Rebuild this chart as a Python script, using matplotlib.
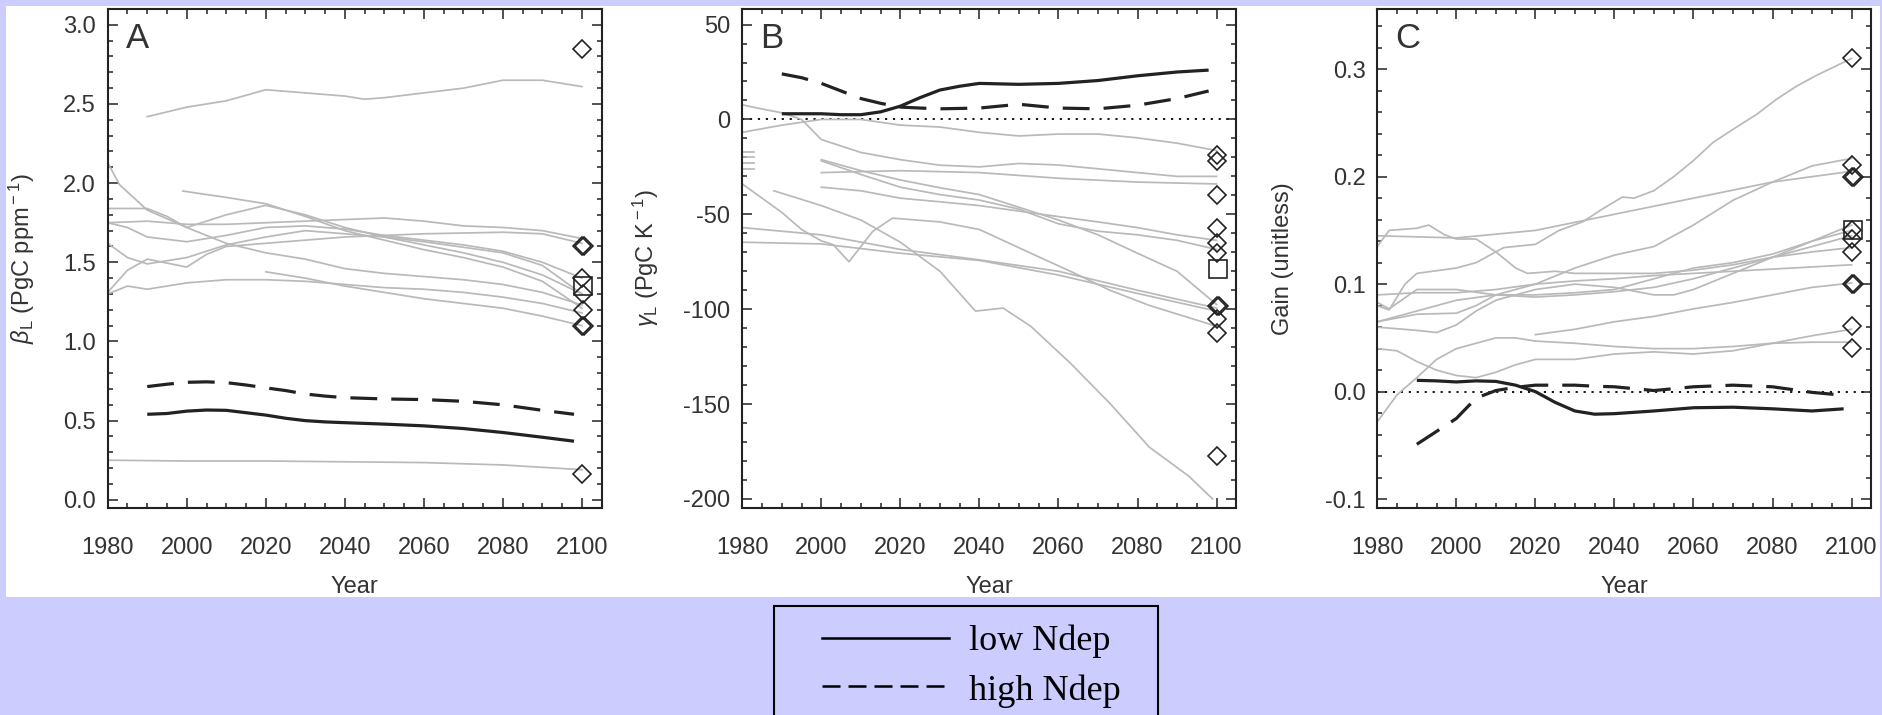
import numpy as np
import matplotlib
matplotlib.use('Agg')
import matplotlib.pyplot as plt
from matplotlib.patches import Rectangle
from matplotlib.lines import Line2D
from matplotlib.ticker import MultipleLocator

plt.rcParams['font.family'] = ['Liberation Sans', 'DejaVu Sans']
plt.rcParams['mathtext.fontset'] = 'custom'
plt.rcParams['mathtext.rm'] = 'Liberation Sans'
plt.rcParams['mathtext.it'] = 'Liberation Sans:italic'

# ---------------- data: panel A (beta_L, PgC/ppm) ----------------
beta_gray = [
    ([1990, 2000, 2010, 2020, 2030, 2040, 2045, 2050, 2060, 2070, 2080, 2090, 2100],
     [2.42, 2.48, 2.52, 2.59, 2.57, 2.55, 2.53, 2.54, 2.57, 2.60, 2.65, 2.65, 2.61]),
    ([1980, 1983, 1990, 2000, 2010, 2020, 2030, 2040, 2050, 2060, 2070, 2080, 2090, 2100],
     [2.13, 1.99, 1.83, 1.72, 1.62, 1.56, 1.52, 1.46, 1.43, 1.41, 1.39, 1.36, 1.31, 1.23]),
    ([1980, 1990, 1995, 2000, 2010, 2020, 2030, 2040, 2050, 2060, 2070, 2080, 2090, 2100],
     [1.84, 1.84, 1.79, 1.72, 1.80, 1.86, 1.80, 1.72, 1.66, 1.61, 1.56, 1.50, 1.42, 1.30]),
    ([1999, 2010, 2020, 2030, 2040, 2050, 2060, 2070, 2080, 2090, 2100],
     [1.95, 1.91, 1.87, 1.79, 1.70, 1.64, 1.58, 1.53, 1.47, 1.38, 1.21]),
    ([1980, 1990, 2000, 2010, 2020, 2030, 2040, 2050, 2060, 2070, 2080, 2090, 2100],
     [1.75, 1.76, 1.74, 1.74, 1.75, 1.76, 1.77, 1.78, 1.76, 1.73, 1.72, 1.70, 1.65]),
    ([1980, 1985, 1990, 2000, 2010, 2020, 2030, 2040, 2050, 2060, 2070, 2080, 2090, 2100],
     [1.75, 1.72, 1.66, 1.63, 1.67, 1.72, 1.73, 1.71, 1.67, 1.64, 1.61, 1.57, 1.50, 1.40]),
    ([1980, 1985, 1990, 2000, 2010, 2020, 2030, 2040, 2050, 2060, 2080, 2090, 2100],
     [1.62, 1.53, 1.49, 1.53, 1.61, 1.66, 1.70, 1.68, 1.66, 1.63, 1.56, 1.48, 1.30]),
    ([1980, 1985, 1990, 2000, 2005, 2010, 2020, 2030, 2040, 2060, 2080, 2090, 2100],
     [1.31, 1.45, 1.52, 1.47, 1.55, 1.60, 1.62, 1.64, 1.66, 1.68, 1.69, 1.68, 1.62]),
    ([1980, 1985, 1990, 2000, 2010, 2020, 2030, 2040, 2050, 2060, 2070, 2080, 2090, 2100],
     [1.30, 1.35, 1.33, 1.37, 1.39, 1.39, 1.38, 1.36, 1.34, 1.33, 1.31, 1.28, 1.24, 1.18]),
    ([2020, 2030, 2040, 2050, 2060, 2070, 2080, 2090, 2100],
     [1.44, 1.40, 1.35, 1.31, 1.27, 1.24, 1.21, 1.16, 1.10]),
    ([1980, 2000, 2020, 2040, 2060, 2080, 2100],
     [0.25, 0.245, 0.245, 0.24, 0.235, 0.22, 0.19]),
]
black_years = [1990, 1995, 2000, 2005, 2010, 2015, 2020, 2025, 2030, 2035, 2040,
               2050, 2060, 2070, 2080, 2090, 2098]
beta_low = [0.54, 0.545, 0.56, 0.567, 0.565, 0.55, 0.535, 0.515, 0.50, 0.492, 0.487,
            0.478, 0.467, 0.45, 0.425, 0.395, 0.37]
beta_high = [0.715, 0.73, 0.742, 0.745, 0.74, 0.725, 0.707, 0.69, 0.668, 0.655, 0.645,
             0.637, 0.633, 0.622, 0.60, 0.565, 0.54]
beta_diamond_x = [2100, 2100, 2100.5, 2100, 2100.3, 2100.3, 2100, 2100.5, 2100]
beta_diamond_y = [2.85, 1.60, 1.60, 1.40, 1.30, 1.20, 1.10, 1.10, 0.16]
beta_square_x = [2100.3]
beta_square_y = [1.35]

# ---------------- data: panel B (gamma_L, PgC/K) ----------------
gamma_gray = [
    ([1980, 1990, 2000, 2010, 2020, 2030, 2040, 2050, 2060, 2070, 2080, 2090, 2100],
     [-6.8, -3, 0, 0, -3, -4, -6.8, -8.7, -7.7, -7.7, -9.7, -12.5, -16.4]),
    ([1980, 1985, 1990, 1995, 2000, 2010, 2020, 2030, 2040, 2050, 2060, 2070, 2080, 2090, 2100],
     [7.7, 5.5, 3.5, 0, -10.6, -17.4, -21.2, -24.1, -25, -23.2, -24, -26, -28, -30, -30]),
    ([2000, 2020, 2040, 2060, 2080, 2100],
     [-28, -27, -28, -31, -33, -34]),
    ([2000, 2010, 2020, 2030, 2040, 2050, 2060, 2070, 2080, 2090, 2100],
     [-21.8, -29, -35.7, -39.6, -42.5, -47.3, -55, -58.9, -60.8, -63.7, -68.5]),
    ([2000, 2010, 2020, 2030, 2040, 2050, 2060, 2070, 2080, 2090, 2100],
     [-35.7, -37.6, -41.5, -43.4, -45.4, -48.3, -51.2, -54, -57, -60.8, -63.7]),
    ([2000, 2010, 2020, 2030, 2040, 2050, 2060, 2070, 2080, 2090, 2100],
     [-21.2, -27, -31.9, -36, -39.6, -46.3, -53, -60.8, -70.5, -80, -97.5]),
    ([1988, 2000, 2010, 2020, 2030, 2039, 2046, 2053, 2063, 2073, 2083, 2093, 2099],
     [-37.6, -45.4, -53, -64.7, -80, -101, -99.4, -109, -128.4, -149.6, -172.7, -188, -200]),
    ([1980, 1990, 1995, 2000, 2003, 2007, 2013, 2018, 2030, 2040, 2053, 2063, 2073, 2083, 2100],
     [-34, -49, -58, -64, -66, -75, -59, -52, -54, -58, -70.5, -80, -90, -98, -109]),
    ([1980, 2000, 2020, 2040, 2060, 2080, 2100],
     [-57, -60.8, -68.5, -74, -80, -90, -99.4]),
    ([1980, 2000, 2020, 2040, 2060, 2080, 2100],
     [-64.7, -65.6, -70.5, -74.3, -82, -91.7, -101]),
    ([1980, 1983], [-17, -17]),
    ([1980, 1983], [-20, -20]),
    ([1980, 1983], [-23, -23]),
    ([1980, 1983], [-26, -26]),
]
gamma_low = [3, 3, 3, 2.5, 2.5, 4, 7, 11.5, 15.5, 17.5, 19, 18.5, 19, 20.5, 23, 25, 26]
gamma_high = [24, 22, 19, 15, 11, 8.5, 6.5, 6, 5.6, 5.8, 6, 8, 6, 5.6, 7.5, 11, 15]
gamma_diamond_x = [2100, 2100, 2100, 2100, 2100, 2100, 2100, 2100.5, 2100, 2100, 2100]
gamma_diamond_y = [-19, -22, -40, -57, -65, -70.5, -98.5, -98.5, -105, -112.5, -177.6]
gamma_square_x = [2100.3]
gamma_square_y = [-79]

# ---------------- data: panel C (gain, unitless) ----------------
gain_gray = [
    ([1980, 1983, 1987, 1990, 2000, 2005, 2012, 2020, 2026, 2032, 2037, 2042, 2045, 2050,
      2055, 2060, 2065, 2070, 2076, 2081, 2086, 2091, 2100],
     [0.08, 0.076, 0.10, 0.11, 0.115, 0.12, 0.134, 0.137, 0.15, 0.158, 0.17, 0.181, 0.18,
      0.187, 0.2, 0.215, 0.232, 0.244, 0.258, 0.272, 0.284, 0.294, 0.31]),
    ([1980, 1983, 1990, 1993, 1997, 2000, 2005, 2010, 2015, 2018, 2025, 2030, 2040, 2050,
      2060, 2070, 2080, 2090, 2100],
     [0.135, 0.15, 0.152, 0.155, 0.146, 0.142, 0.142, 0.13, 0.115, 0.11, 0.112, 0.11, 0.11,
      0.11, 0.113, 0.118, 0.125, 0.13, 0.134]),
    ([1980, 2000, 2020, 2040, 2060, 2080, 2100],
     [0.145, 0.143, 0.15, 0.165, 0.18, 0.195, 0.205]),
    ([1980, 1990, 2000, 2005, 2010, 2020, 2030, 2040, 2050, 2060, 2070, 2080, 2090, 2100],
     [0.065, 0.072, 0.073, 0.08, 0.09, 0.1, 0.115, 0.127, 0.135, 0.155, 0.178, 0.195, 0.21, 0.217]),
    ([1980, 1990, 2000, 2010, 2020, 2030, 2040, 2050, 2060, 2070, 2080, 2090, 2100],
     [0.09, 0.092, 0.092, 0.095, 0.1, 0.103, 0.105, 0.108, 0.11, 0.112, 0.114, 0.116, 0.118]),
    ([1980, 1983, 1990, 2000, 2010, 2020, 2030, 2040, 2050, 2060, 2070, 2080, 2090, 2100],
     [0.083, 0.077, 0.095, 0.095, 0.09, 0.09, 0.092, 0.095, 0.105, 0.115, 0.12, 0.128, 0.14, 0.155]),
    ([1980, 1990, 1995, 2000, 2005, 2010, 2020, 2030, 2040, 2050, 2055, 2060, 2070, 2080, 2090, 2100],
     [0.06, 0.057, 0.055, 0.062, 0.075, 0.085, 0.095, 0.1, 0.097, 0.09, 0.09, 0.095, 0.11,
      0.125, 0.14, 0.15]),
    ([1980, 1990, 2000, 2010, 2020, 2030, 2040, 2050, 2060, 2070, 2080, 2090, 2100],
     [0.065, 0.075, 0.085, 0.09, 0.088, 0.09, 0.093, 0.097, 0.105, 0.115, 0.125, 0.135, 0.145]),
    ([2020, 2030, 2040, 2050, 2060, 2070, 2080, 2090, 2100],
     [0.053, 0.058, 0.065, 0.07, 0.077, 0.083, 0.09, 0.097, 0.101]),
    ([1980, 1985, 1990, 1995, 2000, 2005, 2010, 2015, 2020, 2030, 2040, 2050, 2060, 2070,
      2080, 2090, 2100],
     [0.04, 0.038, 0.028, 0.02, 0.015, 0.013, 0.018, 0.025, 0.03, 0.03, 0.035, 0.037, 0.035,
      0.038, 0.045, 0.052, 0.058]),
    ([1980, 1985, 1990, 1995, 2000, 2005, 2010, 2015, 2020, 2030, 2040, 2050, 2060, 2070,
      2080, 2090, 2100],
     [-0.028, -0.003, 0.013, 0.03, 0.04, 0.045, 0.05, 0.05, 0.047, 0.045, 0.042, 0.04, 0.04,
      0.042, 0.045, 0.046, 0.046]),
]
gain_low = [0.0105, 0.01, 0.009, 0.01, 0.0095, 0.006, 0.0, -0.01, -0.018, -0.021, -0.0205,
            -0.018, -0.015, -0.0145, -0.016, -0.018, -0.016]
gain_high = [-0.049, -0.037, -0.025, -0.006, 0.001, 0.004, 0.006, 0.006, 0.006, 0.005,
             0.0045, 0.001, 0.0045, 0.006, 0.0045, -0.0007, -0.0034]
gain_diamond_x = [2100, 2100, 2100, 2100.5, 2100, 2100, 2100, 2100, 2100.5, 2100, 2100]
gain_diamond_y = [0.31, 0.211, 0.2, 0.2, 0.15, 0.142, 0.13, 0.1, 0.1, 0.061, 0.041]
gain_square_x = [2100.3]
gain_square_y = [0.15]

year_ticks = [1980, 2000, 2020, 2040, 2060, 2080, 2100]

# ---------------- figure ----------------
W, H = 1883, 715
fig = plt.figure(figsize=(W / 100, H / 100), dpi=100)
fig.patch.set_facecolor('#ccccff')
fig.add_artist(Rectangle((6 / W, 1 - 597 / H), 1874 / W, 591 / H, transform=fig.transFigure,
                         facecolor='white', edgecolor='none', zorder=-10))

GRAY = '#b9b9b9'
DARK = '#222222'
TXT = '#333333'

panels = [
    dict(left=107.7, gray=beta_gray, low=beta_low, high=beta_high,
         dx=beta_diamond_x, dy=beta_diamond_y, sx=beta_square_x, sy=beta_square_y,
         ylim=(-0.05, 3.1), major=0.5, minor=0.1, fmt='{:.1f}', zero=False, letter='A',
         ylabel=r'$\beta_{\rm L}$ (PgC ppm$^{\rm -1}$)', lx=-0.1735),
    dict(left=742.3, gray=gamma_gray, low=gamma_low, high=gamma_high,
         dx=gamma_diamond_x, dy=gamma_diamond_y, sx=gamma_square_x, sy=gamma_square_y,
         ylim=(-204.6, 58.2), major=50, minor=10, fmt='{:.0f}', zero=True, letter='B',
         ylabel=r'$\gamma_{\rm L}$ (PgC K$^{\rm -1}$)', lx=-0.195),
    dict(left=1377.3, gray=gain_gray, low=gain_low, high=gain_high,
         dx=gain_diamond_x, dy=gain_diamond_y, sx=gain_square_x, sy=gain_square_y,
         ylim=(-0.108, 0.356), major=0.1, minor=0.02, fmt='{:.1f}', zero=True, letter='C',
         ylabel='Gain (unitless)', lx=-0.191),
]

for p in panels:
    ax = fig.add_axes([p['left'] / W, 1 - 507.7 / H, 494 / W, 498.7 / H])
    ax.set_facecolor('none')
    for yrs, vals in p['gray']:
        ax.plot(yrs, vals, color=GRAY, lw=1.25, zorder=2)
    if p['zero']:
        ax.axhline(0, color='black', lw=1.3, ls=(0, (1.2, 3.2)), zorder=1)
    ax.plot(black_years, p['low'], color=DARK, lw=2.3, zorder=3, solid_capstyle='butt')
    ax.plot(black_years, p['high'], color=DARK, lw=2.3, zorder=3, dashes=(8.4, 4.4))
    ax.plot(p['dx'], p['dy'], ls='none', marker='D', ms=9.6, mfc='none', mec=DARK,
            mew=1.2, zorder=4)
    ax.plot(p['sx'], p['sy'], ls='none', marker='s', ms=12.5, mfc='none', mec=DARK,
            mew=1.2, zorder=4)

    ax.set_xlim(1980, 2105)
    ax.set_ylim(*p['ylim'])
    ax.set_xticks(year_ticks)
    ax.xaxis.set_minor_locator(MultipleLocator(5))
    ax.yaxis.set_major_locator(MultipleLocator(p['major']))
    ax.yaxis.set_minor_locator(MultipleLocator(p['minor']))
    yt = [t for t in ax.get_yticks() if p['ylim'][0] - 1e-9 <= t <= p['ylim'][1] + 1e-9]
    ax.set_yticks(yt)
    ax.set_yticklabels([p['fmt'].format(t).replace('-0.0', '0.0') if abs(t) < 1e-9
                        else p['fmt'].format(t) for t in yt])
    ax.tick_params(which='both', direction='in', top=True, right=True, color=DARK,
                   width=1.1, labelcolor=TXT, labelsize=17)
    ax.tick_params(which='major', length=7.2)
    ax.tick_params(which='minor', length=3.6)
    ax.tick_params(axis='x', which='major', pad=21)
    ax.tick_params(axis='y', which='major', pad=8.5)
    for s in ax.spines.values():
        s.set_linewidth(1.5)
        s.set_color(DARK)
    ax.set_xlabel('Year', fontsize=17, color=TXT, labelpad=12.5)
    ax.set_ylabel(p['ylabel'], fontsize=17, color=TXT, va='center')
    ax.yaxis.set_label_coords(p['lx'], 0.5)
    ax.text(0.036, 0.9212, p['letter'], transform=ax.transAxes, fontsize=25,
            va='baseline', ha='left', color=TXT)

# ---------------- legend (drawn below panels) ----------------
fig.add_artist(Rectangle((774 / W, 1 - 740 / H), 384 / W, 134 / H, transform=fig.transFigure,
                         facecolor='none', edgecolor='black', lw=1.5, clip_on=False))
fig.add_artist(Line2D([821.7 / W, 949 / W], [1 - 638 / H, 1 - 638 / H],
                      transform=fig.transFigure, color='black', lw=1.8))
fig.add_artist(Line2D([821.7 / W, 949 / W], [1 - 686 / H, 1 - 686 / H],
                      transform=fig.transFigure, color='black', lw=1.8, dashes=(7.2, 3.2)))
fig.text(969 / W, 1 - 650 / H, 'low Ndep', fontsize=26, family='Liberation Serif',
         va='baseline', ha='left', color='black')
fig.text(969 / W, 1 - 700 / H, 'high Ndep', fontsize=26, family='Liberation Serif',
         va='baseline', ha='left', color='black')

fig.savefig('out.png', dpi=100, facecolor=fig.get_facecolor())
